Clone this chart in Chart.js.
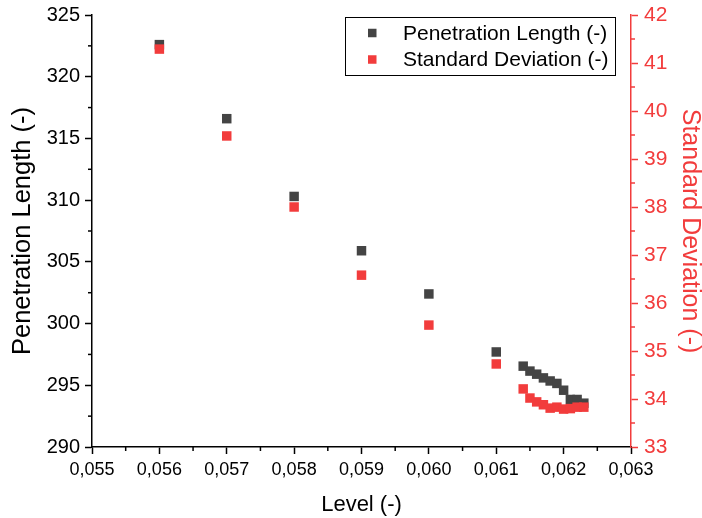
<!DOCTYPE html>
<html><head><meta charset="utf-8">
<script src="https://cdn.jsdelivr.net/npm/chart.js@4"></script>
<style>html,body{margin:0;padding:0;background:#fff}#wrap{width:702px;height:518px}</style>
</head><body><div id="wrap"><canvas id="c" width="702" height="518"></canvas></div>
<script>
const levels = [0.056,0.057,0.058,0.059,0.060,0.061,0.0614,0.0615,0.0616,0.0617,0.0618,0.0619,0.0620,0.0621,0.0622,0.0623];
const penetration = [322.6,316.6,310.3,305.9,302.4,297.7,296.55,296.15,295.9,295.6,295.35,295.15,294.6,293.85,293.85,293.55];
const stdDev = [41.29,39.48,38.0,36.58,35.54,34.73,34.21,34.02,33.94,33.88,33.81,33.83,33.79,33.8,33.83,33.83];
const seriesNames = ['Penetration Length (-)','Standard Deviation (-)'];
const axisTitles = {x:'Level (-)', y:'Penetration Length (-)', y2:'Standard Deviation (-)'};
const BLACK = '#444444', RED = '#f23c3c';
const FONT = 'Liberation Sans, Arial, sans-serif';

const minorTicks = {
  id:'minorTicks',
  afterDraw(chart){
    const ctx = chart.ctx, a = chart.chartArea;
    ctx.save(); ctx.lineWidth = 1.5;
    const xs = chart.scales.x;
    ctx.strokeStyle = '#000';
    for (let v = 0.0555; v < 0.063; v += 0.001){ const p = xs.getPixelForValue(v); ctx.beginPath(); ctx.moveTo(p,a.bottom); ctx.lineTo(p,a.bottom+4); ctx.stroke(); }
    const ys = chart.scales.y;
    for (let v = 292.5; v < 325; v += 5){ const p = ys.getPixelForValue(v); ctx.beginPath(); ctx.moveTo(a.left,p); ctx.lineTo(a.left-4,p); ctx.stroke(); }
    const y2 = chart.scales.y2; ctx.strokeStyle = RED;
    for (let v = 33.5; v < 42; v += 1){ const p = y2.getPixelForValue(v); ctx.beginPath(); ctx.moveTo(a.right,p); ctx.lineTo(a.right+4,p); ctx.stroke(); }
    // legend
    const lx = 345, ly = 17, lw = 270, lh = 58;
    ctx.fillStyle = '#fff'; ctx.fillRect(lx,ly,lw,lh);
    ctx.strokeStyle = '#000'; ctx.lineWidth = 1; ctx.strokeRect(lx+0.5,ly+0.5,lw,lh);
    ctx.font = '21px ' + FONT; ctx.textBaseline = 'middle'; ctx.textAlign = 'left';
    const cols = [BLACK, RED];
    seriesNames.forEach((n,i)=>{
      const cy = 33 + i*26.5;
      ctx.fillStyle = cols[i]; ctx.fillRect(368, cy-4.25, 8.5, 8.5);
      ctx.fillStyle = '#000'; ctx.fillText(n, 403, cy+1);
    });
    ctx.restore();
  }
};

new Chart(document.getElementById('c'), {
  type:'scatter',
  data:{ datasets:[
    {label:seriesNames[0], data:levels.map((x,i)=>({x, y:penetration[i]})), yAxisID:'y', backgroundColor:BLACK, pointStyle:'rect', pointRadius:6.7, borderWidth:0, order:1},
    {label:seriesNames[1], data:levels.map((x,i)=>({x, y:stdDev[i]})), yAxisID:'y2', backgroundColor:RED, pointStyle:'rect', pointRadius:6.7, borderWidth:0, order:0}
  ]},
  plugins:[minorTicks],
  options:{
    responsive:false, animation:false, devicePixelRatio:1,
    layout:{padding:{top:15,left:0,right:0,bottom:0}},
    plugins:{legend:{display:false}, tooltip:{enabled:false}},
    scales:{
      x:{type:'linear', min:0.055, max:0.063,
        ticks:{stepSize:0.001, color:'#000', font:{family:FONT,size:18}, padding:5, callback:v=>v.toFixed(3).replace('.',',')},
        grid:{drawOnChartArea:false, color:'#000', tickLength:7, tickWidth:1.5},
        border:{color:'#000', width:1.5},
        title:{display:true, text:axisTitles.x, color:'#000', font:{family:FONT,size:22}, padding:{top:2,bottom:0}},
        afterFit:s=>{s.height=71; s.paddingLeft=0; s.paddingRight=0;}
      },
      y:{type:'linear', position:'left', min:290, max:325,
        ticks:{stepSize:5, color:'#000', font:{family:FONT,size:20}, padding:5},
        grid:{drawOnChartArea:false, color:'#000', tickLength:7, tickWidth:1.5},
        border:{color:'#000', width:1.5},
        title:{display:true, text:axisTitles.y, color:'#000', font:{family:FONT,size:25.5}, padding:{top:8,bottom:0}},
        afterFit:s=>{s.width=92; s.paddingTop=0; s.paddingBottom=0;}
      },
      y2:{type:'linear', position:'right', min:33, max:42,
        ticks:{stepSize:1, color:RED, font:{family:FONT,size:21}, padding:6},
        grid:{drawOnChartArea:false, color:RED, tickLength:7, tickWidth:1.5},
        border:{color:RED, width:1.5},
        title:{display:true, text:axisTitles.y2, color:RED, font:{family:FONT,size:25, lineHeight:1}, padding:{top:0,bottom:0}},
        afterFit:s=>{s.width=71; s.paddingTop=0; s.paddingBottom=0;}
      }
    }
  }
});
</script></body></html>
